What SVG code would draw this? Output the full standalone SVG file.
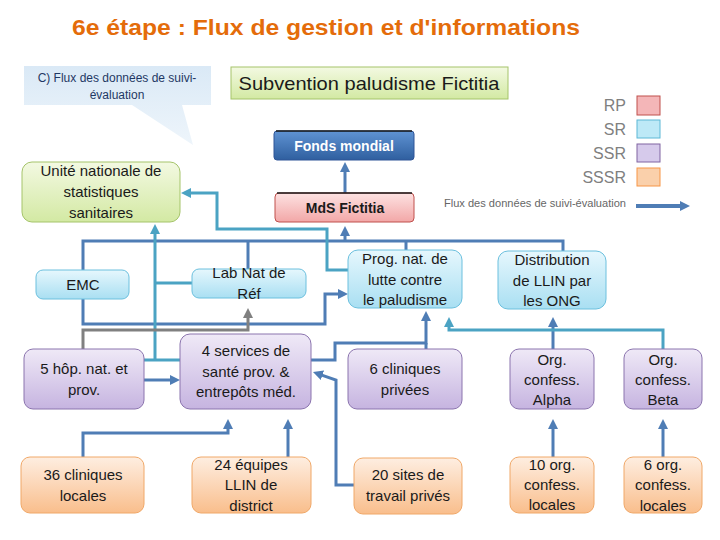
<svg xmlns="http://www.w3.org/2000/svg" width="720" height="540" viewBox="0 0 720 540">
<defs>
<style>
text{font-family:"Liberation Sans",Arial,sans-serif;}
.t{font-size:15px;fill:#1a1a1a;text-anchor:middle;}
.lg{font-size:16px;fill:#808080;text-anchor:end;}
.b{fill:none;stroke:#4F7DB5;stroke-width:3;}
.c{fill:none;stroke:#4BA3C3;stroke-width:3;}
.g{fill:none;stroke:#808080;stroke-width:3;}
.sr{fill:url(#gSR);stroke:#6CC0DE;stroke-width:1;}
.ssr{fill:url(#gSSR);stroke:#8B74AE;stroke-width:1;}
.sssr{fill:url(#gSSSR);stroke:#F0A868;stroke-width:1;}
.rp{fill:url(#gRP);stroke:#C0504D;stroke-width:1;}
</style>
<linearGradient id="gSR" x1="0" y1="0" x2="0" y2="1"><stop offset="0" stop-color="#E6F7FD"/><stop offset="1" stop-color="#A9DFF2"/></linearGradient>
<linearGradient id="gSSR" x1="0" y1="0" x2="0" y2="1"><stop offset="0" stop-color="#EFE9F7"/><stop offset="1" stop-color="#C6B4E0"/></linearGradient>
<linearGradient id="gSSSR" x1="0" y1="0" x2="0" y2="1"><stop offset="0" stop-color="#FEEEE1"/><stop offset="1" stop-color="#F9BE8C"/></linearGradient>
<linearGradient id="gRP" x1="0" y1="0" x2="0" y2="1"><stop offset="0" stop-color="#FDE2E2"/><stop offset="1" stop-color="#F2A7A7"/></linearGradient>
<linearGradient id="gGR" x1="0" y1="0" x2="0" y2="1"><stop offset="0" stop-color="#F3F9E2"/><stop offset="1" stop-color="#D3E9A3"/></linearGradient>
<linearGradient id="gFM" x1="0" y1="0" x2="0" y2="1"><stop offset="0" stop-color="#5F93D3"/><stop offset="1" stop-color="#2F5F9F"/></linearGradient>
<linearGradient id="gCO" x1="0" y1="0" x2="0" y2="1"><stop offset="0" stop-color="#DAE9F6"/><stop offset="1" stop-color="#EEF5FB"/></linearGradient>
<marker id="ab" viewBox="0 0 10 10" refX="3" refY="5" markerWidth="10" markerHeight="10" orient="auto" markerUnits="userSpaceOnUse"><path d="M0,0 L10,5 L0,10 z" fill="#4F7DB5"/></marker>
<marker id="ac" viewBox="0 0 10 10" refX="3" refY="5" markerWidth="10" markerHeight="10" orient="auto" markerUnits="userSpaceOnUse"><path d="M0,0 L10,5 L0,10 z" fill="#4BA3C3"/></marker>
<marker id="ag" viewBox="0 0 10 10" refX="3" refY="5" markerWidth="10" markerHeight="10" orient="auto" markerUnits="userSpaceOnUse"><path d="M0,0 L10,5 L0,10 z" fill="#808080"/></marker>
</defs>
<rect width="720" height="540" fill="#ffffff"/>

<text x="326" y="35" font-size="22" font-weight="bold" fill="#E46C0A" text-anchor="middle" textLength="508" lengthAdjust="spacingAndGlyphs">6e étape : Flux de gestion et d'informations</text>

<g id="callout">
<path d="M24,66 H211 V105 H182 L193,145 L132,105 H24 Z" fill="url(#gCO)"/>
<text x="117" y="82" font-size="12" fill="#1F3864" text-anchor="middle">C) Flux des données de suivi-</text>
<text x="117" y="99" font-size="12" fill="#1F3864" text-anchor="middle">évaluation</text>
</g>

<g id="subvention">
<rect x="231" y="67" width="277" height="32" fill="url(#gGR)" stroke="#A5C46A" stroke-width="1"/>
<text x="369" y="90" font-size="19" fill="#1a1a1a" text-anchor="middle" textLength="261" lengthAdjust="spacingAndGlyphs">Subvention paludisme Fictitia</text>
</g>

<g id="legend">
<text class="lg" x="626" y="111">RP</text>
<rect x="637" y="96" width="23" height="19" fill="#F4B6B8" stroke="#C0504D" stroke-width="1"/>
<text class="lg" x="626" y="135">SR</text>
<rect x="637" y="120" width="23" height="18" fill="#BDE9F7" stroke="#5DB8D6" stroke-width="1"/>
<text class="lg" x="626" y="159">SSR</text>
<rect x="637" y="144" width="23" height="18" fill="#D6CAEB" stroke="#8064A2" stroke-width="1"/>
<text class="lg" x="626" y="183">SSSR</text>
<rect x="637" y="168" width="23" height="18" fill="#FAD0AB" stroke="#F79646" stroke-width="1"/>
<text x="626" y="207" font-size="10.5" fill="#666666" text-anchor="end" textLength="182" lengthAdjust="spacingAndGlyphs">Flux des données de suivi-évaluation</text>
<path d="M636,206 H683" fill="none" stroke="#4F7DB5" stroke-width="4" marker-end="url(#ab)"/>
</g>

<g id="connectors">
<path class="b" d="M345,193 V169" marker-end="url(#ab)"/>
<path class="b" d="M83,270 V241 H563 V251"/>
<path class="b" d="M248,269 V241"/>
<path class="b" d="M406,250 V241"/>
<path class="b" d="M345,241 V233" marker-end="url(#ab)"/>
<path class="b" d="M83,299 V324 H325 V294 H341" marker-end="url(#ab)"/>
<path class="b" d="M144,380 H173" marker-end="url(#ab)"/>
<path class="b" d="M311,360 H335 V343 H426 V318" marker-end="url(#ab)"/>
<path class="b" d="M426,349 V343"/>
<path class="b" d="M354,485 H336 V380 L319.6,374.3" marker-end="url(#ab)"/>
<path class="b" d="M83,457 V433 H228 V426" marker-end="url(#ab)"/>
<path class="b" d="M288,457 V426" marker-end="url(#ab)"/>
<path class="b" d="M553,349 V324" stroke-width="4" marker-end="url(#ab)"/>
<path class="b" d="M553,457 V426" marker-end="url(#ab)"/>
<path class="b" d="M663,457 V426" marker-end="url(#ab)"/>
<path class="c" d="M348,270 H327 V229 H217 V193 H188" marker-end="url(#ac)"/>
<path class="c" d="M144,360 H180"/>
<path class="c" d="M192,283 H155"/>
<path class="c" d="M155,360 V231" marker-end="url(#ac)"/>
<path class="c" d="M663,349 V330 H449 V324" marker-end="url(#ac)"/>
<path class="g" d="M83,349 V330 H248 V315" marker-end="url(#ag)"/>
</g>

<g id="fonds-mondial">
<rect x="274" y="131" width="140" height="29" rx="3" fill="url(#gFM)" stroke="#2F5597" stroke-width="1"/>
<path d="M276,131 H412" stroke="#1a1a1a" stroke-width="1.5"/>
<text x="344" y="151" font-size="14" font-weight="bold" fill="#ffffff" text-anchor="middle">Fonds mondial</text>
</g>

<g id="mds">
<rect x="275" y="193" width="139" height="29" rx="4" class="rp"/>
<path d="M277,193 H412" stroke="#1a1a1a" stroke-width="1.5"/>
<text x="345" y="213" font-size="14" font-weight="bold" fill="#1a1a1a" text-anchor="middle">MdS Fictitia</text>
</g>

<g id="unite">
<rect x="22" y="162" width="158" height="60" rx="10" fill="url(#gGR)" stroke="#A5C46A" stroke-width="1"/>
<text class="t" x="101" y="176">Unité nationale de</text>
<text class="t" x="101" y="197">statistiques</text>
<text class="t" x="101" y="218">sanitaires</text>
</g>

<g id="emc">
<rect x="36" y="270" width="93" height="29" rx="7" class="sr"/>
<text class="t" x="83" y="290">EMC</text>
</g>

<g id="lab">
<rect x="192" y="269" width="114" height="29" rx="7" class="sr"/>
<text class="t" x="249" y="278">Lab Nat de</text>
<text class="t" x="249" y="299">Réf</text>
</g>

<g id="prog">
<rect x="348" y="250" width="114" height="58" rx="10" class="sr"/>
<text class="t" x="405" y="264">Prog. nat. de</text>
<text class="t" x="405" y="285">lutte contre</text>
<text class="t" x="405" y="305">le paludisme</text>
</g>

<g id="distribution">
<rect x="498" y="251" width="108" height="58" rx="10" class="sr"/>
<text class="t" x="552" y="265">Distribution</text>
<text class="t" x="552" y="286">de LLIN par</text>
<text class="t" x="552" y="306">les ONG</text>
</g>

<g id="hop">
<rect x="24" y="349" width="120" height="60" rx="9" class="ssr"/>
<text class="t" x="84" y="374">5 hôp. nat. et</text>
<text class="t" x="84" y="395">prov.</text>
</g>

<g id="services">
<rect x="180" y="334" width="131" height="75" rx="10" class="ssr"/>
<text class="t" x="246" y="356">4 services de</text>
<text class="t" x="246" y="377">santé prov. &amp;</text>
<text class="t" x="246" y="397">entrepôts méd.</text>
</g>

<g id="cliniques-privees">
<rect x="348" y="349" width="114" height="60" rx="9" class="ssr"/>
<text class="t" x="405" y="374">6 cliniques</text>
<text class="t" x="405" y="395">privées</text>
</g>

<g id="alpha">
<rect x="510" y="349" width="84" height="60" rx="9" class="ssr"/>
<text class="t" x="552" y="365">Org.</text>
<text class="t" x="552" y="385">confess.</text>
<text class="t" x="552" y="405">Alpha</text>
</g>

<g id="beta">
<rect x="624" y="349" width="78" height="60" rx="9" class="ssr"/>
<text class="t" x="663" y="365">Org.</text>
<text class="t" x="663" y="385">confess.</text>
<text class="t" x="663" y="405">Beta</text>
</g>

<g id="cliniques-locales">
<rect x="21" y="457" width="123" height="56" rx="9" class="sssr"/>
<text class="t" x="83" y="480">36 cliniques</text>
<text class="t" x="83" y="501">locales</text>
</g>

<g id="equipes">
<rect x="192" y="457" width="119" height="56" rx="9" class="sssr"/>
<text class="t" x="251" y="470">24 équipes</text>
<text class="t" x="251" y="490">LLIN de</text>
<text class="t" x="251" y="511">district</text>
</g>

<g id="sites">
<rect x="354" y="458" width="108" height="56" rx="9" class="sssr"/>
<text class="t" x="408" y="480">20 sites de</text>
<text class="t" x="408" y="501">travail privés</text>
</g>

<g id="org10">
<rect x="510" y="457" width="84" height="56" rx="9" class="sssr"/>
<text class="t" x="552" y="470">10 org.</text>
<text class="t" x="552" y="490">confess.</text>
<text class="t" x="552" y="510">locales</text>
</g>

<g id="org6">
<rect x="624" y="457" width="78" height="56" rx="9" class="sssr"/>
<text class="t" x="663" y="470">6 org.</text>
<text class="t" x="663" y="490">confess.</text>
<text class="t" x="663" y="511">locales</text>
</g>
</svg>
